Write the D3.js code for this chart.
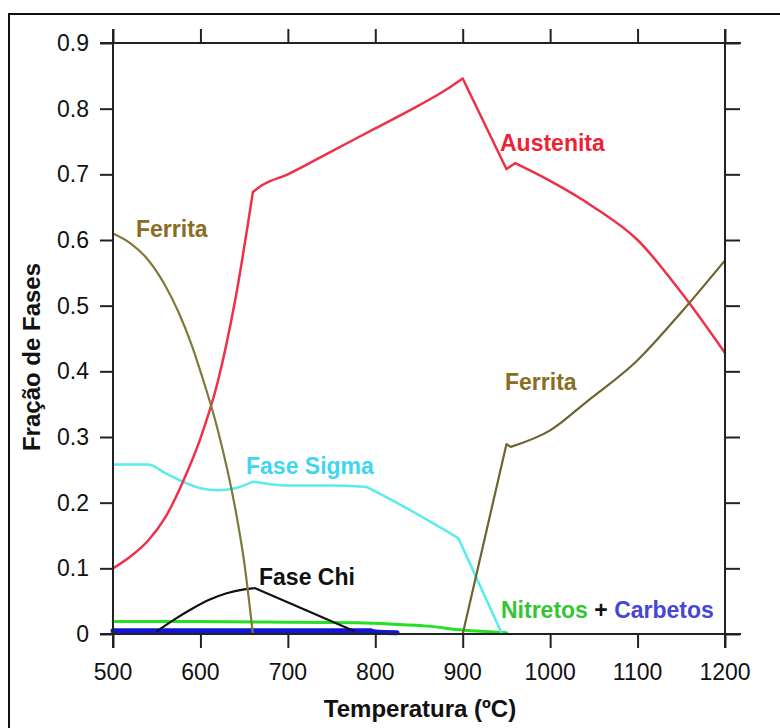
<!DOCTYPE html>
<html><head><meta charset="utf-8">
<script src="https://cdn.jsdelivr.net/npm/d3@7"></script>
<style>body{margin:0;background:#fff;} svg{display:block;}</style>
</head><body>
<svg id="chart" width="780" height="728"></svg>
<script>
// ---- data ----
const xTicks = [500,600,700,800,900,1000,1100,1200];
const yTicks = [0,0.1,0.2,0.3,0.4,0.5,0.6,0.7,0.8,0.9];
const yTickLabels = ["0","0.1","0.2","0.3","0.4","0.5","0.6","0.7","0.8","0.9"];

const austenitaT = [500,520,540,560,580,600,620,640,660,670,700,750,800,850,880,900,950,960,1000,1050,1100,1150,1200];
const austenitaV = [0.10,0.118,0.142,0.178,0.232,0.298,0.385,0.51,0.673,0.683,0.70,0.735,0.77,0.805,0.828,0.846,0.708,0.717,0.69,0.65,0.60,0.52,0.428];
const austenitaBreaks = [660,900,950,960];

const ferrita1T = [500,520,540,560,575,590,600,620,640,650,660];
const ferrita1V = [0.61,0.595,0.57,0.53,0.49,0.44,0.40,0.31,0.19,0.11,0.0];

const ferrita2T = [900,950,955,1000,1042,1100,1150,1200];
const ferrita2V = [0.0,0.289,0.285,0.31,0.354,0.417,0.49,0.569];
const ferrita2Breaks = [950,955];

const sigmaT = [500,540,560,580,600,620,640,660,680,700,750,790,830,895,945];
const sigmaV = [0.258,0.258,0.245,0.232,0.222,0.219,0.222,0.232,0.228,0.226,0.226,0.224,0.196,0.146,0.0];
const sigmaBreaks = [660,790,895];

const chiT = [551,570,590,610,630,650,662,775];
const chiV = [0.005,0.022,0.038,0.052,0.062,0.068,0.070,0.005];
const chiBreaks = [662];

const nitretosT = [500,600,700,780,820,860,900,950];
const nitretosV = [0.019,0.019,0.018,0.017,0.015,0.012,0.006,0.002];

const carbetosT = [500,600,700,795,800,825];
const carbetosV = [0.005,0.005,0.005,0.005,0.003,0.002];

// ---- layout ----
const svg = d3.select("#chart");
const x = d3.scaleLinear().domain([500,1200]).range([113,725]);
const y = d3.scaleLinear().domain([0,0.9]).range([634,43]);
const FONT = "'Liberation Sans', Arial, sans-serif";

// outer border
svg.append("rect").attr("x",9).attr("y",14).attr("width",800).attr("height",760)
  .attr("fill","none").attr("stroke","#111").attr("stroke-width",2);

const zip = (T,V) => T.map((t,i)=>[t,V[i]]);
const smooth = d3.line().x(d=>x(d[0])).y(d=>y(d[1])).curve(d3.curveMonotoneX);

function series(T,V,breaks,color,w){
  const pts = zip(T,V);
  const segs = []; let cur = [];
  pts.forEach(p=>{
    cur.push(p);
    if (breaks.includes(p[0])) { segs.push(cur); cur = [p]; }
  });
  if (cur.length > 1) segs.push(cur);
  svg.append("path").attr("d", segs.map(s=>smooth(s)).join(""))
    .attr("fill","none").attr("stroke",color).attr("stroke-width",w)
    .attr("stroke-linejoin","round").attr("stroke-linecap","round");
}

series(carbetosT,carbetosV,[795],"#1414d8",5);
series(nitretosT,nitretosV,[],"#22e022",3);
series(sigmaT,sigmaV,sigmaBreaks,"#5aecec",2.5);
series(chiT,chiV,chiBreaks,"#111",2.2);
series(austenitaT,austenitaV,austenitaBreaks,"#ee3048",2.5);
series(ferrita1T,ferrita1V,[],"#7f7a3a",2.2);
series(ferrita2T,ferrita2V,ferrita2Breaks,"#6e6430",2.2);

// axes (ticks outward on all four sides)
const axStyle = g => {
  g.selectAll("line").attr("stroke","#222").attr("stroke-width",2);
  g.select("path.domain").remove();
};
svg.append("g").attr("transform","translate(0,634)")
  .call(d3.axisBottom(x).tickValues(xTicks).tickSize(14).tickSizeOuter(0).tickFormat(""))
  .call(axStyle);
svg.append("g").attr("transform","translate(0,43)")
  .call(d3.axisTop(x).tickValues(xTicks).tickSize(14).tickSizeOuter(0).tickFormat(""))
  .call(axStyle);
svg.append("g").attr("transform","translate(113,0)")
  .call(d3.axisLeft(y).tickValues(yTicks).tickSize(13).tickSizeOuter(0).tickFormat(""))
  .call(axStyle);
svg.append("g").attr("transform","translate(725,0)")
  .call(d3.axisRight(y).tickValues(yTicks).tickSize(15).tickSizeOuter(0).tickFormat(""))
  .call(axStyle);
// axis frame lines, extended through the corners
[[113,29,113,648],[725,29,725,648],[100,43,741,43],[100,634,741,634]].forEach(l=>{
  svg.append("line").attr("x1",l[0]).attr("y1",l[1]).attr("x2",l[2]).attr("y2",l[3])
    .attr("stroke","#222").attr("stroke-width",2);
});

// tick labels
svg.append("g").selectAll("text").data(xTicks).join("text")
  .attr("x",d=>x(d)).attr("y",680).attr("text-anchor","middle")
  .attr("font-family",FONT).attr("font-size",23).attr("fill","#111").text(d=>d);
svg.append("g").selectAll("text").data(yTicks).join("text")
  .attr("x",89).attr("y",d=>y(d)).attr("dy","0.35em").attr("text-anchor","end")
  .attr("font-family",FONT).attr("font-size",23).attr("fill","#111").text((d,i)=>yTickLabels[i]);

// axis titles
svg.append("text").attr("x",420).attr("y",717).attr("text-anchor","middle")
  .attr("font-family",FONT).attr("font-weight","bold").attr("font-size",24).attr("fill","#111")
  .text("Temperatura (ºC)");
svg.append("text").attr("transform","translate(40,357) rotate(-90)").attr("text-anchor","middle")
  .attr("font-family",FONT).attr("font-weight","bold").attr("font-size",24).attr("fill","#111")
  .text("Fração de Fases");

// series labels
function label(txt,xp,yp,color){
  return svg.append("text").attr("x",xp).attr("y",yp).attr("font-family",FONT)
    .attr("font-weight","bold").attr("font-size",23).attr("fill",color).text(txt);
}
label("Austenita",500,151,"#ee2233");
label("Ferrita",136,237,"#8a6c22");
label("Ferrita",505,390,"#8a6c22");
label("Fase Sigma",246,474,"#3ed6f0");
label("Fase Chi",259,585,"#111");
const t = svg.append("text").attr("x",501).attr("y",618).attr("font-family",FONT)
  .attr("font-weight","bold").attr("font-size",23);
t.append("tspan").attr("fill","#33c633").text("Nitretos");
t.append("tspan").attr("fill","#111").text(" + ");
t.append("tspan").attr("fill","#4646d6").text("Carbetos");
</script>
</body></html>
